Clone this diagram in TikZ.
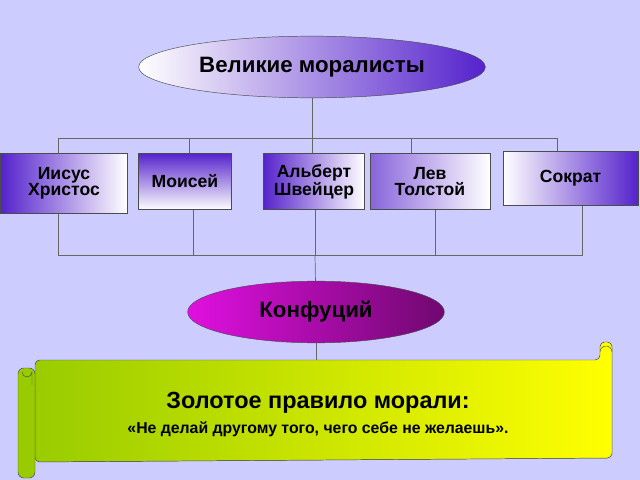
\documentclass[tikz,border=0pt]{standalone}
\usepackage{fontspec}
\setmainfont{Liberation Sans}
\usetikzlibrary{positioning,shapes.geometric}
\definecolor{bg}{HTML}{CCCCFF}
\definecolor{vio}{HTML}{5522CC}
\definecolor{mag}{HTML}{E010E0}
\definecolor{lime}{HTML}{99CC00}
\definecolor{yel}{HTML}{FFFF00}
\begin{document}
\begin{tikzpicture}[x=0.03cm,y=-0.03cm]
	\tikzset{box/.style={draw=black!70, line width=0.6pt, minimum height=1.7cm, align=center,
			font=\bfseries\fontsize{15}{14}\selectfont, inner sep=1pt},
		ln/.style={draw=black!60, line width=0.6pt}};

	\fill[bg] (0,0) rectangle (640,480);

	\node[ellipse, draw=black!70, minimum width=10.4cm, minimum height=1.85cm,
		left color=white, right color=vio, font=\bfseries\fontsize{19}{20}\selectfont] (top) at (312,67) {Великие моралисты};

	\node[box, minimum width=3.8cm, minimum height=1.8cm, left color=vio, right color=white] (b1) at (64,183.5) {Иисус\\Христос};
	\node[box, minimum width=2.8cm, top color=vio, bottom color=white] (b2) at (185,181.5) {Моисей};
	\node[box, minimum width=3.05cm, left color=vio, right color=white] (b3) at (314,181.5) {Альберт\\Швейцер};
	\node[box, minimum width=3.6cm, left color=vio!70, right color=white] (b4) at (430,181.5) {Лев\\Толстой};
	\node[box, minimum width=4.05cm, minimum height=1.6cm, left color=white, right color=vio] (b5) at (570.5,178.5) {Сократ};

	\node[ellipse, draw=black!70, minimum width=7.7cm, minimum height=1.85cm,
		left color=mag, right color=mag!50!black, font=\bfseries\fontsize{19}{20}\selectfont] (kon) at (316,312) {Конфуций};

	% scroll
	\filldraw[draw=black!70, left color=lime, right color=yel, rounded corners=4pt]
		(35,360) -- (600,360) -- (600,342) -- (612,342) -- (612,458) -- (35,462) -- cycle;
	\filldraw[draw=black!70, fill=lime, rounded corners=5pt] (18,368) rectangle (35,478);
	\draw[black!70] (22,372) arc (180:0:5) -- (32,385);
	\draw[black!70] (600,360) arc (180:270:0) (600,352) arc (180:360:6);
	\node[font=\bfseries\fontsize{20}{20}\selectfont] (rule) at (318,403) {Золотое правило морали:};
	\node[font=\bfseries\fontsize{13.5}{14}\selectfont, below=0pt of rule] (quote) {«Не делай другому того, чего себе не желаешь».};
	\coordinate (s) at (316,360);

	% connectors
	\coordinate (t0) at (312,138);
	\coordinate (t1) at (58,138);
	\coordinate (t5) at (557,138);
	\coordinate (u0) at (315,255);
	\coordinate (u1) at (58,255);
	\coordinate (u5) at (582,255);

	\draw[ln] (top) -- (t0);
	\draw[ln] (t1) -- (t5);
	\draw[ln] (t1) -- (b1.north -| t1);
	\draw[ln] (189,138) -- (b2.north -| 189,0);
	\draw[ln] (t0) -- (b3.north -| t0);
	\draw[ln] (411,138) -- (b4.north -| 411,0);
	\draw[ln] (t5) -- (b5.north -| t5);

	\draw[ln] (b1.south -| u1) -- (u1) -- (u5) -- (b5.south -| u5);
	\draw[ln] (b2.south -| 193,0) -- (193,255);
	\draw[ln] (b3.south -| u0) -- (u0);
	\draw[ln] (b4.south -| 435,0) -- (435,255);
	\draw[ln] (u0) -- (kon);
	\draw[ln] (kon) -- (s);
\end{tikzpicture}
\end{document}
